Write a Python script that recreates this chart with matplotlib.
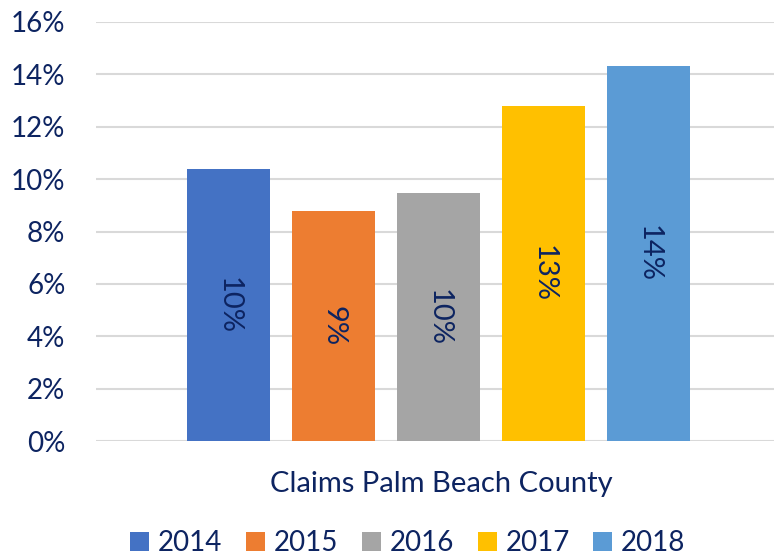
import matplotlib
matplotlib.use("Agg")
import matplotlib.pyplot as plt
from matplotlib.patches import Patch

years = ["2014", "2015", "2016", "2017", "2018"]
values = [10.38, 8.78, 9.47, 12.79, 14.31]
labels = ["10%", "9%", "10%", "13%", "14%"]
colors = ["#4472C4", "#ED7D31", "#A5A5A5", "#FFC000", "#5B9BD5"]
category = "Claims Palm Beach County"
yticks = [0, 2, 4, 6, 8, 10, 12, 14, 16]

txt = "#0D2461"
plt.rcParams['font.family'] = ['Lato', 'DejaVu Sans']

W, H = 774, 558
L, R, T, B = 96, 774, 22, 441
fig = plt.figure(figsize=(W / 100, H / 100), dpi=100)
ax = fig.add_axes([L / W, (H - B) / H, (R - L) / W, (B - T) / H])

spacing = 1.0
width = 0.79
xs = [(i - 2) * spacing for i in range(len(years))]
ax.bar(xs, values, width=width, color=colors, zorder=3)
for x, v, lab in zip(xs, values, labels):
    ax.text(x, v / 2, lab, rotation=270, ha='center', va='center',
            fontsize=21, color=txt, zorder=4)

ax.set_ylim(0, 16)
ax.set_xlim((L - 438.5) / 105, (R - 438.5) / 105)
ax.set_yticks(yticks)
ax.set_yticklabels([f"{t}%" for t in yticks], fontsize=20, color=txt)
ax.tick_params(axis='y', length=0, pad=22)
ax.set_xticks([])
for s in ax.spines.values():
    s.set_visible(False)
ax.yaxis.grid(True, color="#D9D9D9", linewidth=1.5, zorder=0)
ax.set_axisbelow(True)

fig.text(441 / W, 1 - 484 / H, category, ha='center', va='center',
         fontsize=21, color=txt)

handles = [Patch(facecolor=c, edgecolor='none') for c in colors]
fig.legend(handles, years, loc='center', bbox_to_anchor=(408 / W, 1 - 543 / H),
           ncol=5, frameon=False, fontsize=20, labelcolor=txt,
           handlelength=0.68, handleheight=0.68, handletextpad=0.32,
           columnspacing=0.85, borderpad=0)

fig.savefig("out.png", dpi=100)
